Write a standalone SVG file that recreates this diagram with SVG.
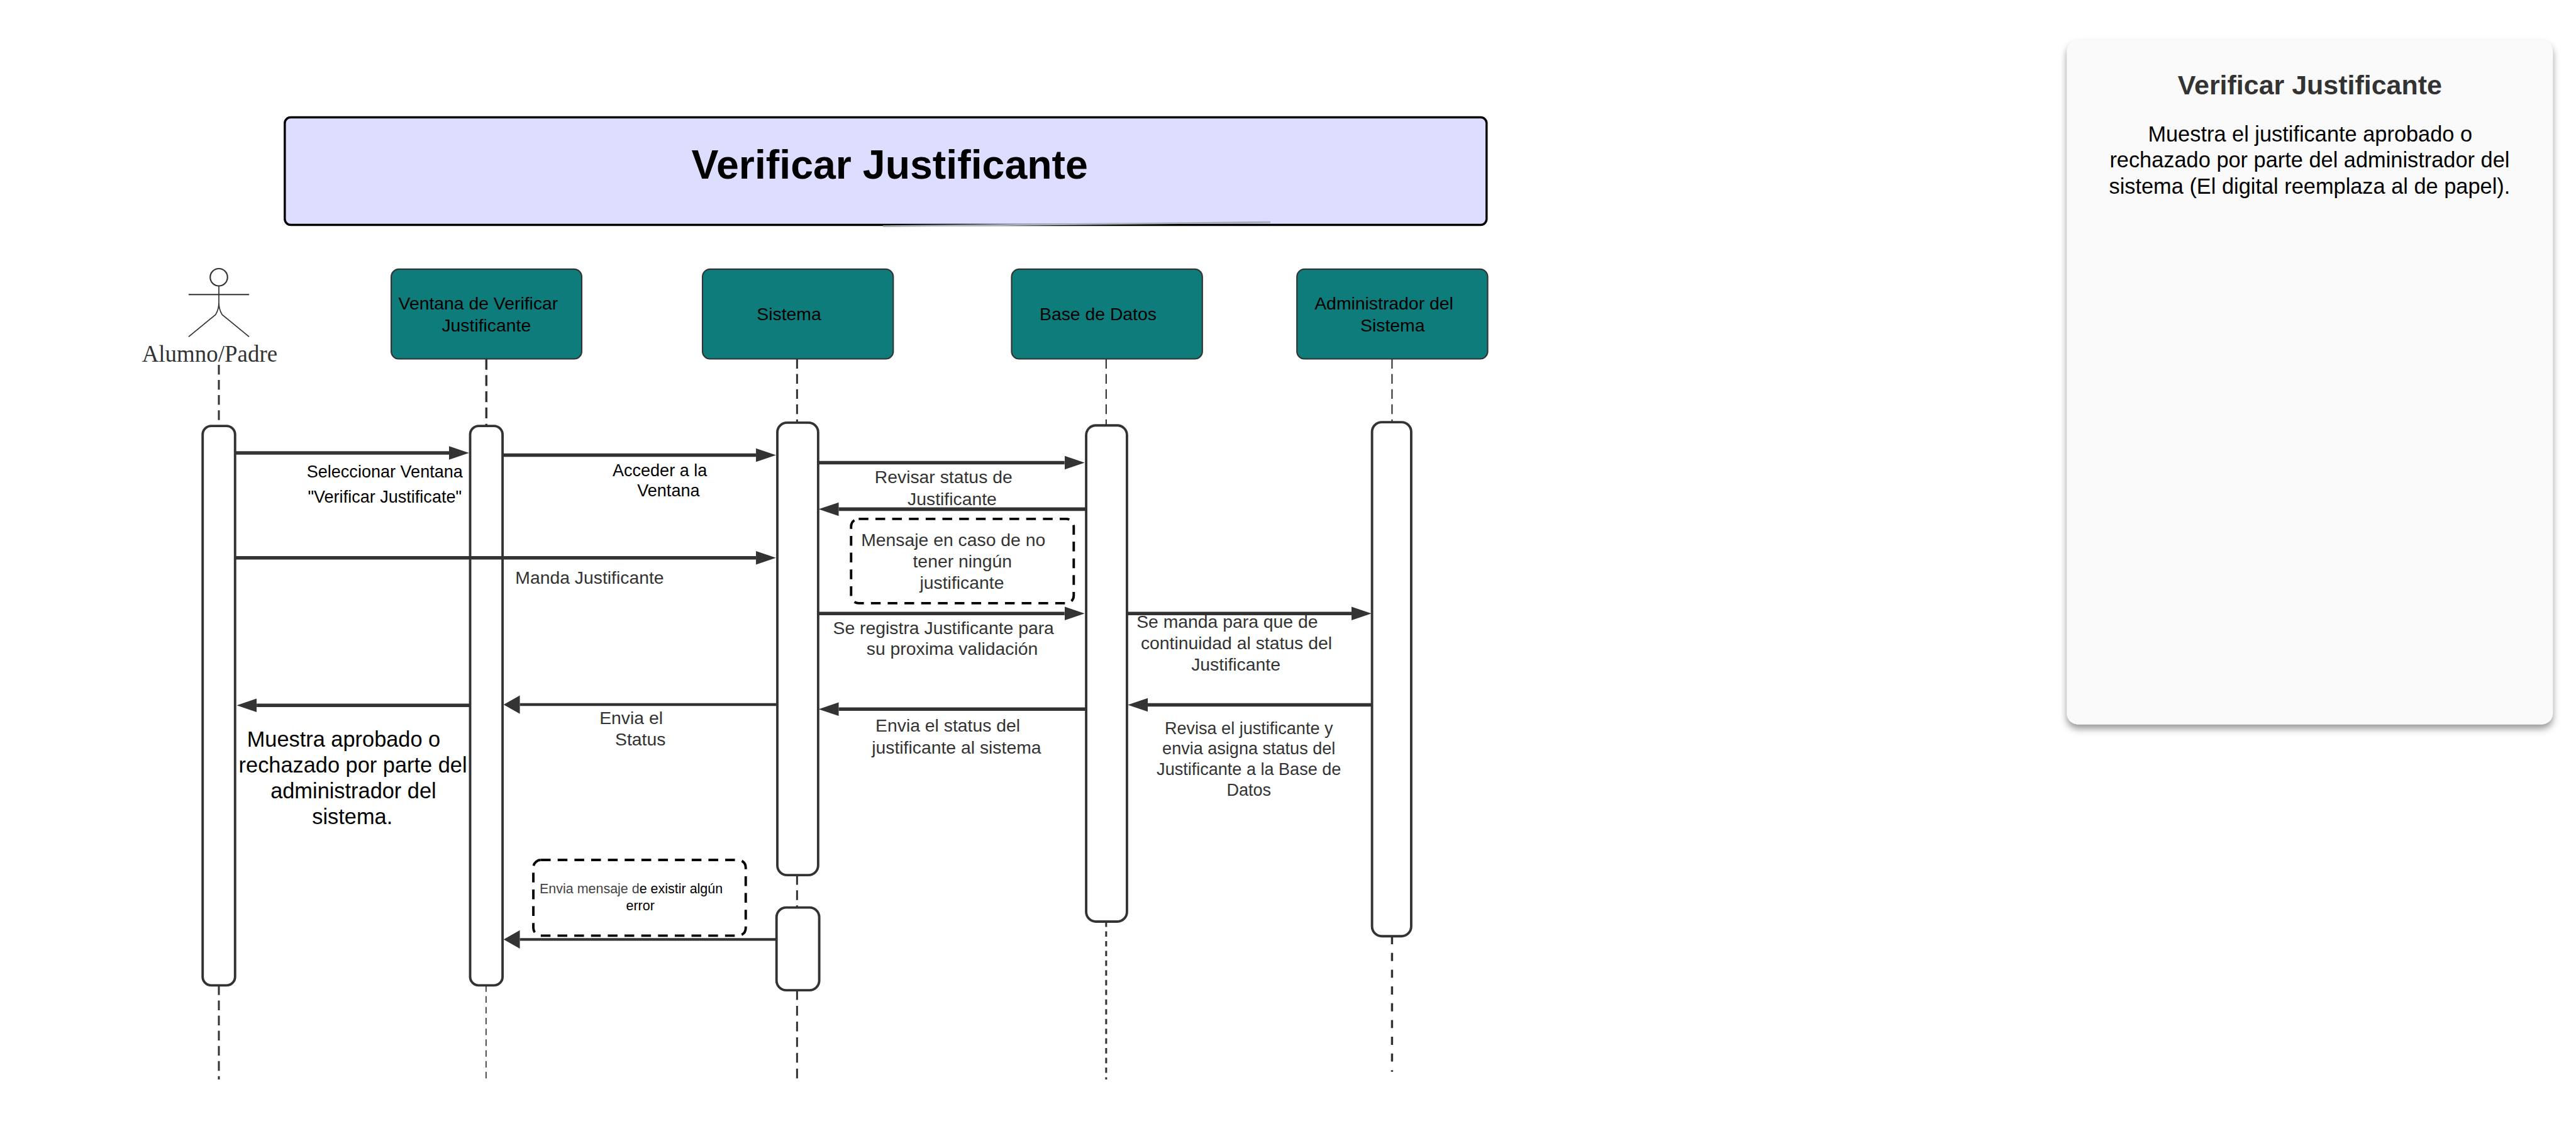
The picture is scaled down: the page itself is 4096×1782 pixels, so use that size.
<svg xmlns="http://www.w3.org/2000/svg" width="4096" height="1782" viewBox="0 0 4096 1782">
<style>
text{font-family:"Liberation Sans",Arial,sans-serif;text-anchor:middle}
.h{fill:#0e7c7b;stroke:#333;stroke-width:2.5}
.b{fill:#fff;stroke:#333;stroke-width:4.5}
.n{fill:none;stroke:#000;stroke-width:4.5;stroke-dasharray:18 13}
.t{font-size:33px;fill:#000}
.g{font-size:33px;fill:#333}
.s{font-size:31.500px;fill:#333}
.m{font-size:40px;fill:#000}
.a{fill:none;stroke:#333;stroke-width:6.500}
.c{fill:none;stroke:#333;stroke-width:5}
.l{fill:none;stroke:#333;stroke-width:3.500;stroke-dasharray:18 10}
</style>
<defs>
<marker id="ha" markerUnits="userSpaceOnUse" viewBox="0 -13 37 26" refX="0" refY="0" markerWidth="37" markerHeight="26" orient="auto"><path d="M0,-12.5L37,0L0,12.5Z" fill="#333"/></marker>
<marker id="hb" markerUnits="userSpaceOnUse" viewBox="0 -17 30 34" refX="0" refY="0" markerWidth="30" markerHeight="34" orient="auto"><path d="M0,-17L30,0L0,17Z" fill="#333"/></marker>
<filter id="sh" x="-5%" y="-5%" width="110%" height="110%"><feDropShadow dx="0" dy="8" stdDeviation="7" flood-color="#000" flood-opacity=".42"/></filter>
</defs>
<rect width="4096" height="1782" fill="#fff"/>
<g transform="scale(.85924)">
<g id="title">
<rect x="527" y="217" width="2224" height="199" rx="11" fill="#ddf" stroke="#000" stroke-width="4"/>
<text x="1646.500" y="330" font-size="75" font-weight="700" fill="#000">Verificar Justificante</text>
<path d="M1634,418.500L2351,411" fill="none" stroke="#a9adb5" stroke-width="3"/>
</g>
<g id="actor-alumno" fill="none" stroke="#333" stroke-width="2.500">
<circle cx="405" cy="513" r="16"/>
<path d="M405,529V560Q405,572 411,582L461,623M405,560Q405,572 399,582L349,623" stroke-width="2"/>
<path d="M349,545H461"/>
<text x="388" y="669" font-size="43" style="font-family:'Liberation Serif',serif" fill="#333" stroke="none">Alumno/Padre</text>
</g>
<g id="node-ventana"><rect class="h" x="724" y="498" width="352.500" height="166" rx="14"/><text class="t" x="885" y="573">Ventana de Verificar</text><text class="t" x="900" y="613">Justificante</text></g>
<g id="node-sistema"><rect class="h" x="1300" y="498" width="353" height="166" rx="14"/><text class="t" x="1460" y="592">Sistema</text></g>
<g id="node-base"><rect class="h" x="1872" y="498" width="353" height="166" rx="14"/><text class="t" x="2032" y="592">Base de Datos</text></g>
<g id="node-admin"><rect class="h" x="2400" y="498" width="353" height="166" rx="14"/><text class="t" x="2561" y="573">Administrador del</text><text class="t" x="2577" y="613">Sistema</text></g>
<g id="bar-alumno"><rect class="b" x="375" y="788" width="60" height="1035" rx="16"/></g>
<g id="bar-ventana"><rect class="b" x="870" y="788" width="60" height="1035" rx="16"/></g>
<g id="bar-sistema"><rect class="b" x="1438.500" y="782" width="75.500" height="837" rx="18"/></g>
<g id="bar-sistema-2"><rect class="b" x="1437" y="1679" width="79" height="153" rx="18"/></g>
<g id="bar-base"><rect class="b" x="2010" y="787" width="75.500" height="918" rx="18"/></g>
<g id="bar-admin"><rect class="b" x="2539" y="781" width="72.500" height="951" rx="18"/></g>
<g id="note-mensaje"><rect class="n" x="1575" y="960" width="412" height="156" rx="14"/><text class="g" x="1764" y="1010">Mensaje en caso de no</text><text class="g" x="1781" y="1050">tener ningún</text><text class="g" x="1780" y="1089">justificante</text></g>
<g id="note-error"><rect class="n" x="987" y="1591" width="393" height="140" rx="14"/><text x="1168" y="1653" font-size="25" fill="#000"><tspan fill="#444">Envia mensaje d</tspan>e existir algún</text><text x="1185" y="1684" font-size="25" fill="#000">error</text></g>
<g id="labels">
<text class="t" x="712" y="883" style="font-size:31.500px">Seleccionar Ventana</text>
<text class="t" x="712" y="930" style="font-size:31.500px">"Verificar Justificate"</text>
<text class="t" x="1221" y="881" style="font-size:31.500px">Acceder a la</text>
<text class="t" x="1237" y="918.500" style="font-size:31.500px">Ventana</text>
<text class="g" x="1091" y="1080">Manda Justificante</text>
<text class="g" x="1746" y="894">Revisar status de</text>
<text class="g" x="1762" y="934">Justificante</text>
<text class="g" x="1746" y="1173">Se registra Justificante para</text>
<text class="g" x="1762" y="1212">su proxima validación</text>
<text class="g" x="2271" y="1162">Se manda para que de</text>
<text class="g" x="2288" y="1201">continuidad al status del</text>
<text class="g" x="2287" y="1241">Justificante</text>
<text class="g" x="1754" y="1354">Envia el status del</text>
<text class="g" x="1770" y="1394">justificante al sistema</text>
<text class="s" x="2311" y="1358">Revisa el justificante y</text>
<text class="s" x="2311" y="1396">envia asigna status del</text>
<text class="s" x="2311" y="1434">Justificante a la Base de</text>
<text class="s" x="2311" y="1472">Datos</text>
<text class="g" x="1168" y="1340">Envia el</text>
<text class="g" x="1185" y="1379">Status</text>
<text class="m" x="636" y="1381">Muestra aprobado o</text>
<text class="m" x="653" y="1429">rechazado por parte del</text>
<text class="m" x="654" y="1477">administrador del</text>
<text class="m" x="652" y="1524.500">sistema.</text>
</g>
<g id="panel">
<rect x="3825" y="75" width="899" height="1265" rx="20" fill="#fafafa" filter="url(#sh)"/>
<text x="4274.500" y="175" font-size="50" font-weight="700" fill="#333">Verificar Justificante</text>
<text class="m" x="4275" y="262">Muestra el justificante aprobado o</text>
<text class="m" x="4274" y="310">rechazado por parte del administrador del</text>
<text class="m" x="4274" y="358">sistema (El digital reemplaza al de papel).</text>
</g>
<g id="connectors">
<path class="l" d="M405,675V788"/>
<path class="l" d="M900,664V788" style="stroke-width:4;stroke-dasharray:20 10"/>
<path class="l" d="M1475,664V782"/>
<path class="l" d="M2047,664V787" style="stroke-width:2.500"/>
<path class="l" d="M2576,664V781" style="stroke-width:2.500"/>
<path class="l" d="M1475,1619V1679"/>
<path class="l" d="M405,1823V1997"/>
<path class="l" d="M899.500,1823V1997" style="stroke-width:2;stroke-dasharray:12 8"/>
<path class="l" d="M1475,1832V1997" style="stroke-dasharray:18 11"/>
<path class="l" d="M2047,1705V1997" style="stroke-dasharray:10 8"/>
<path class="l" d="M2576,1732V1983" style="stroke-width:4;stroke-dasharray:15 16"/>
<path class="a" d="M435,838H831" marker-end="url(#ha)"/>
<path class="a" d="M930,842H1399" marker-end="url(#ha)"/>
<path class="a" d="M1515,856H1970" marker-end="url(#ha)"/>
<path class="a" d="M2010,942H1552" marker-end="url(#ha)"/>
<path class="a" d="M435,1032H1399" marker-end="url(#ha)"/>
<path class="a" d="M1515,1135H1970" marker-end="url(#ha)"/>
<path class="a" d="M2085,1135H2501" marker-end="url(#ha)"/>
<path class="a" d="M870,1305H475" marker-end="url(#ha)"/>
<path class="c" d="M1438,1303.500H962" marker-end="url(#hb)"/>
<path class="a" d="M2010,1312H1552" marker-end="url(#ha)"/>
<path class="a" d="M2539,1304H2124" marker-end="url(#ha)"/>
<path class="c" d="M1437,1738H962" marker-end="url(#hb)"/>
</g>
</g>
</svg>
